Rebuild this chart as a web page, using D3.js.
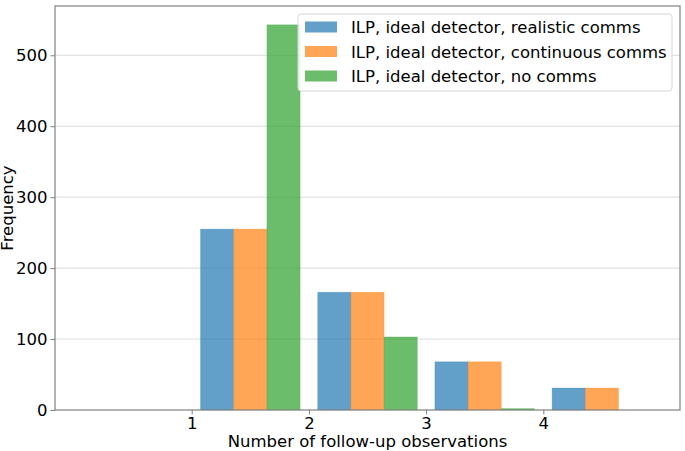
<!DOCTYPE html>
<html>
<head>
<meta charset="utf-8">
<script src="https://cdn.jsdelivr.net/npm/d3@7"></script>
<style>
  body { margin: 0; background: #fff; }
  text { font-family: "DejaVu Sans", sans-serif; fill: #000; }
</style>
</head>
<body>
<div id="chart"></div>
<script>
// bins (left edge of each histogram bin) and counts per series
const bins = [1, 2, 3, 4];
const seriesNames = [
  "ILP, ideal detector, realistic comms",
  "ILP, ideal detector, continuous comms",
  "ILP, ideal detector, no comms"
];
const realistic = [255, 166, 68, 31];
const continuous = [255, 166, 68, 31];
const noComms = [543, 103, 2, 0];
const colors = ["#1f77b4", "#ff7f0e", "#2ca02c"];
const yTicks = [0, 100, 200, 300, 400, 500];
const xTicks = [1, 2, 3, 4];

const showChart = () => {
  const width = 685, height = 451;
  const margin = {top: 6, right: 5, bottom: 41, left: 55};
  const innerW = width - margin.left - margin.right;
  const innerH = height - margin.top - margin.bottom;

  const svg = d3.select("#chart").append("svg")
      .attr("width", width)
      .attr("height", height);

  const x = d3.scaleLinear().domain([-0.166, 5.166]).range([0, innerW]);
  const y = d3.scaleLinear().domain([0, 569.5]).range([innerH, 0]);

  const g = svg.append("g").attr("transform", `translate(${margin.left},${margin.top})`);

  // grid
  g.append("g")
    .selectAll("line")
    .data(yTicks.filter(d => d > 0))
    .join("line")
      .attr("x1", 0).attr("x2", innerW)
      .attr("y1", d => y(d)).attr("y2", d => y(d))
      .attr("stroke", "#dcdcdc")
      .attr("stroke-width", 1);

  // bars, matplotlib style hist with rwidth 0.85
  const all = [realistic, continuous, noComms];
  const rwidth = 0.85;
  const barW = rwidth / all.length;
  all.forEach((vals, si) => {
    g.append("g")
      .selectAll("rect")
      .data(bins.map((b, i) => ({b, v: vals[i]})))
      .join("rect")
        .attr("x", d => x(d.b + (1 - rwidth) / 2 + si * barW))
        .attr("width", d => x(barW) - x(0))
        .attr("y", d => y(d.v))
        .attr("height", d => y(0) - y(d.v))
        .attr("fill", colors[si])
        .attr("fill-opacity", 0.7)
        .attr("stroke", colors[si])
        .attr("stroke-opacity", 0.25)
        .attr("stroke-width", 0.8);
  });

  // axes
  const xAxis = g.append("g")
      .attr("transform", `translate(0,${innerH})`)
      .call(d3.axisBottom(x).tickValues(xTicks).tickFormat(d3.format("d")).tickSize(4.5).tickPadding(3));
  const yAxis = g.append("g")
      .call(d3.axisLeft(y).tickValues(yTicks).tickFormat(d3.format("d")).tickSize(4.5).tickPadding(3));

  [xAxis, yAxis].forEach(a => {
    a.select(".domain").remove();
    a.selectAll(".tick line").attr("stroke", "#808080").attr("stroke-width", 1);
    a.selectAll(".tick text").style("font-size", "16.5px").attr("fill", "#000");
  });

  // frame
  g.append("rect")
    .attr("x", 0).attr("y", 0)
    .attr("width", innerW).attr("height", innerH)
    .attr("fill", "none")
    .attr("stroke", "#808080")
    .attr("stroke-width", 1.2);

  // axis labels
  svg.append("text")
    .attr("x", margin.left + innerW / 2)
    .attr("y", 447)
    .attr("text-anchor", "middle")
    .style("font-size", "16.5px")
    .text("Number of follow-up observations");

  svg.append("text")
    .attr("transform", `translate(12.5,${margin.top + innerH / 2}) rotate(-90)`)
    .attr("text-anchor", "middle")
    .style("font-size", "16.5px")
    .text("Frequency");

  // legend
  const leg = svg.append("g").attr("transform", "translate(298,14)");
  leg.append("rect")
    .attr("width", 374).attr("height", 77)
    .attr("rx", 3)
    .attr("fill", "#fff").attr("fill-opacity", 0.85)
    .attr("stroke", "#d6d6d6");
  seriesNames.forEach((name, i) => {
    const row = leg.append("g").attr("transform", `translate(0,${13 + i * 24.5})`);
    row.append("rect")
      .attr("x", 7).attr("y", -5.5)
      .attr("width", 32).attr("height", 11)
      .attr("fill", colors[i]).attr("fill-opacity", 0.7);
    row.append("text")
      .attr("x", 53).attr("y", 6)
      .style("font-size", "16.5px")
      .text(name);
  });
};

showChart();
</script>
</body>
</html>
